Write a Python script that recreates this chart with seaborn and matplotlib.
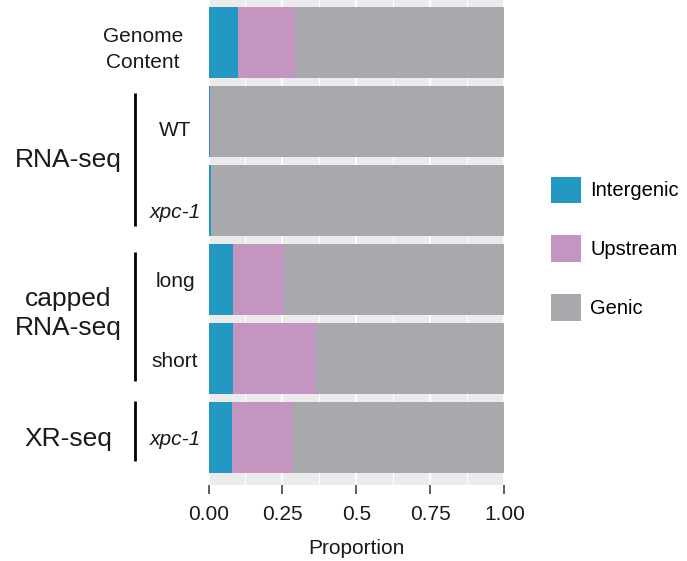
# stacked proportion bars: genome content vs sequencing libraries
import matplotlib
matplotlib.use('Agg')
import matplotlib.pyplot as plt
import matplotlib.transforms as mtransforms
from matplotlib.patches import Patch
import seaborn as sns

# Data
rows = ['genome', 'rna_wt', 'rna_xpc1', 'cap_long', 'cap_short', 'xr_xpc1']
row_labels = ['Genome\nContent', 'WT', 'xpc-1', 'long', 'short', 'xpc-1']
row_italic = [False, False, True, False, False, True]
intergenic = [0.100, 0.005, 0.008, 0.083, 0.083, 0.079]
upstream = [0.192, 0.003, 0.001, 0.172, 0.279, 0.207]
genic = [0.708, 0.992, 0.991, 0.745, 0.638, 0.714]

groups = ['RNA-seq', 'capped\nRNA-seq', 'XR-seq']
group_spans = [(0.64, 2.33), (2.65, 4.29), (4.54, 5.30)]

region_names = ['Intergenic', 'Upstream', 'Genic']
region_colors = ['#2398c3', '#c595c2', '#a8a9ad']

xticks = [0, 0.25, 0.5, 0.75, 1.0]
xticklabels = ['0.00', '0.25', '0.5', '0.75', '1.00']

plt.rcParams['font.family'] = ['Liberation Sans', 'DejaVu Sans']

fig = plt.figure(figsize=(6.87, 5.61), dpi=100)
ax = fig.add_axes([0.3035, 0.1355, 0.4308, 0.8739])

# stack: draw cumulative widths from back to front
layers = [intergenic, upstream, genic]
cum = []
run = [0.0] * len(rows)
for layer in layers:
    run = [a + b for a, b in zip(run, layer)]
    cum.append(run)
for vals, col in zip(reversed(cum), reversed(region_colors)):
    sns.barplot(x=vals, y=rows, order=rows, orient='h', color=col, saturation=1,
                width=0.9, linewidth=0, ax=ax)

ax.set_facecolor('#ebebeb')
ax.set_xlim(0, 1)
ax.set_ylim(5.6, -0.6)
ax.set_xticks(xticks)
ax.set_xticklabels(xticklabels, fontsize=15, color='#1a1a1a')
ax.set_xticks([0.125, 0.375, 0.625, 0.875], minor=True)
ax.grid(which='major', axis='x', color='white', lw=1.3)
ax.grid(which='minor', axis='x', color='white', lw=0.7)
ax.grid(which='major', axis='y', visible=False)
ax.set_axisbelow(True)
ax.tick_params(axis='x', which='major', length=6.5, width=1.1, color='#333333', pad=8)
ax.tick_params(axis='x', which='minor', length=0)
ax.tick_params(axis='y', length=0)
ax.set_yticklabels([])
ax.set_ylabel('')
ax.set_xlabel('Proportion', fontsize=15, color='#1a1a1a', labelpad=11)
for s in ax.spines.values():
    s.set_visible(False)

trans = mtransforms.blended_transform_factory(ax.transAxes, ax.transData)

# row labels
label_y = [0.09, 1.12, 2.16, 3.03, 4.04, 5.03]
for lab, y, it in zip(row_labels, label_y, row_italic):
    xpos = -0.221 if '\n' in lab else -0.113
    ax.text(xpos, y, lab, transform=trans, ha='center', va='center',
            fontsize=15, style='italic' if it else 'normal',
            color='#1a1a1a', linespacing=1.45)

# group labels and brackets
group_y = [1.49, 3.43, 5.02]
for g, y, (y0, y1) in zip(groups, group_y, group_spans):
    ax.text(-0.475, y, g, transform=trans, ha='center', va='center',
            fontsize=19, color='#1a1a1a', linespacing=1.3)
    ax.plot([-0.248, -0.248], [y0, y1], transform=trans, color='black',
            lw=2, clip_on=False, solid_capstyle='butt')

handles = [Patch(facecolor=c, edgecolor='none') for c in region_colors]
fig.legend(handles, region_names, loc='center left', bbox_to_anchor=(0.802, 0.557),
           frameon=False, fontsize=14.5, handlelength=1.5, handleheight=1.65,
           handletextpad=0.45, labelspacing=1.6, borderpad=0, borderaxespad=0)

fig.savefig('out.png', dpi=100)
